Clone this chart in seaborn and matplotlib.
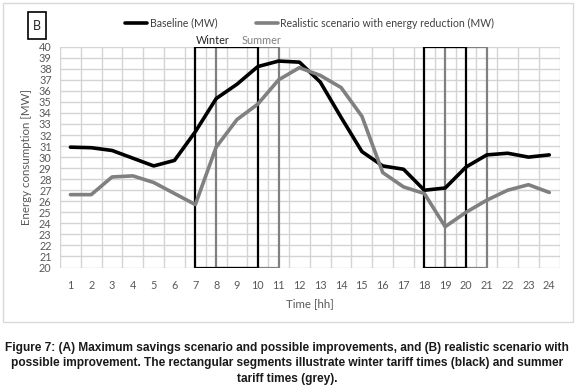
import numpy as np
import pandas as pd
import matplotlib
matplotlib.use("Agg")
import matplotlib.pyplot as plt
from matplotlib.patches import Rectangle
import seaborn as sns

# ---------------------------- DATA ----------------------------
hours = list(range(1, 25))
baseline = [30.9, 30.85, 30.6, 29.9, 29.2, 29.7, 32.3, 35.3, 36.6, 38.2, 38.7, 38.6,
            36.8, 33.6, 30.5, 29.2, 28.9, 27.0, 27.2, 29.1, 30.2, 30.35, 30.0, 30.2]
realistic = [26.6, 26.6, 28.2, 28.3, 27.7, 26.7, 25.7, 30.9, 33.4, 34.8, 37.0, 38.1,
             37.4, 36.3, 33.7, 28.6, 27.3, 26.7, 23.7, 25.0, 26.1, 27.0, 27.5, 26.8]
series_names = ["Baseline (MW)", "Realistic scenario with energy reduction (MW)"]
winter_periods = [(7, 10), (18, 20)]
summer_periods = [(8, 11), (19, 21)]
y_ticks = list(range(20, 41))

caption_lines = [
    "Figure 7: (A) Maximum savings scenario and possible improvements, and (B) realistic scenario with",
    "possible improvement. The rectangular segments illustrate winter tariff times (black) and summer",
    "tariff times (grey).",
]

df = pd.DataFrame({
    "hour": hours * 2,
    "MW": baseline + realistic,
    "series": [series_names[0]] * 24 + [series_names[1]] * 24,
})

# ---------------------------- PLOT ----------------------------
sns.set_style("white")
plt.rcParams["font.family"] = ["Lato", "DejaVu Sans"]

W, H = 580, 389
fig = plt.figure(figsize=(W / 100, H / 100), dpi=100)

def fx(px):
    return px / W

def fy(py):
    return 1 - py / H

left, right, top, bottom = 60, 559.7, 46.7, 267.5
ax = fig.add_axes([fx(left), fy(bottom), fx(right - left), (bottom - top) / H])

grey = "#808080"
# tariff boxes (summer grey first, winter black on top)
for a, b in summer_periods:
    ax.plot([a, a, b, b, a], [20, 40, 40, 20, 20], color=grey, lw=1.6, zorder=3)
for a, b in winter_periods:
    ax.plot([a, a, b, b, a], [20, 40, 40, 20, 20], color="black", lw=1.6, zorder=3)

sns.lineplot(data=df, x="hour", y="MW", hue="series",
             palette={series_names[0]: "black", series_names[1]: grey},
             linewidth=2.6, ax=ax, zorder=4)

ax.set_xlim(0.5, 24.5)
ax.set_ylim(20, 40)
ax.set_xticks(hours)
ax.set_yticks(y_ticks)
ax.set_xticks(np.arange(0.5, 25, 1), minor=True)
ax.grid(False)
ax.grid(which="minor", axis="x", color="#d4d4d4", lw=1, zorder=0)
ax.grid(which="major", axis="y", color="#d4d4d4", lw=1, zorder=0)
ax.tick_params(axis="both", which="both", length=0, labelsize=7.8, colors="#595959")
ax.tick_params(axis="x", pad=9)
ax.tick_params(axis="y", pad=6)
for s in ax.spines.values():
    s.set_visible(False)
ax.set_xlabel("Time [hh]", fontsize=8.3, color="#595959", labelpad=5)
ax.set_ylabel("Energy consumption [MW]", fontsize=8.3, color="#595959", labelpad=5)

handles, labels = ax.get_legend_handles_labels()
ax.legend(handles, labels, ncol=2, loc="center", bbox_to_anchor=(0.5, 1 + (top - 23) / (bottom - top)),
          frameon=False, fontsize=7.6, handlelength=2.1, handletextpad=0.25, columnspacing=3.6,
          labelcolor="#404040")

for label, xpx, col in [("Winter", 213, "#262626"), ("Summer", 262, grey)]:
    ax.text(0.5 + (xpx - left) / (right - left) * 24, 40.6, label, ha="center", va="center",
            fontsize=7.8, color=col)

# chart border and panel letter
fig.patches.append(Rectangle((fx(3), fy(322)), fx(570), 319 / H, transform=fig.transFigure,
                             fill=False, edgecolor="#d9d9d9", lw=1))
fig.patches.append(Rectangle((fx(28), fy(39)), fx(18), 27 / H, transform=fig.transFigure,
                             fill=False, edgecolor="black", lw=1.2))
fig.text(fx(37), fy(25.5), "B", ha="center", va="center", fontsize=9, color="#262626")

for i, line in enumerate(caption_lines):
    fig.text(0.495, fy(348 + 15.3 * i), line, ha="center", va="center", fontsize=8.6,
             fontweight="bold", family=["Liberation Sans", "DejaVu Sans"], color="#1a1a1a")

fig.savefig("out.png", dpi=100)
